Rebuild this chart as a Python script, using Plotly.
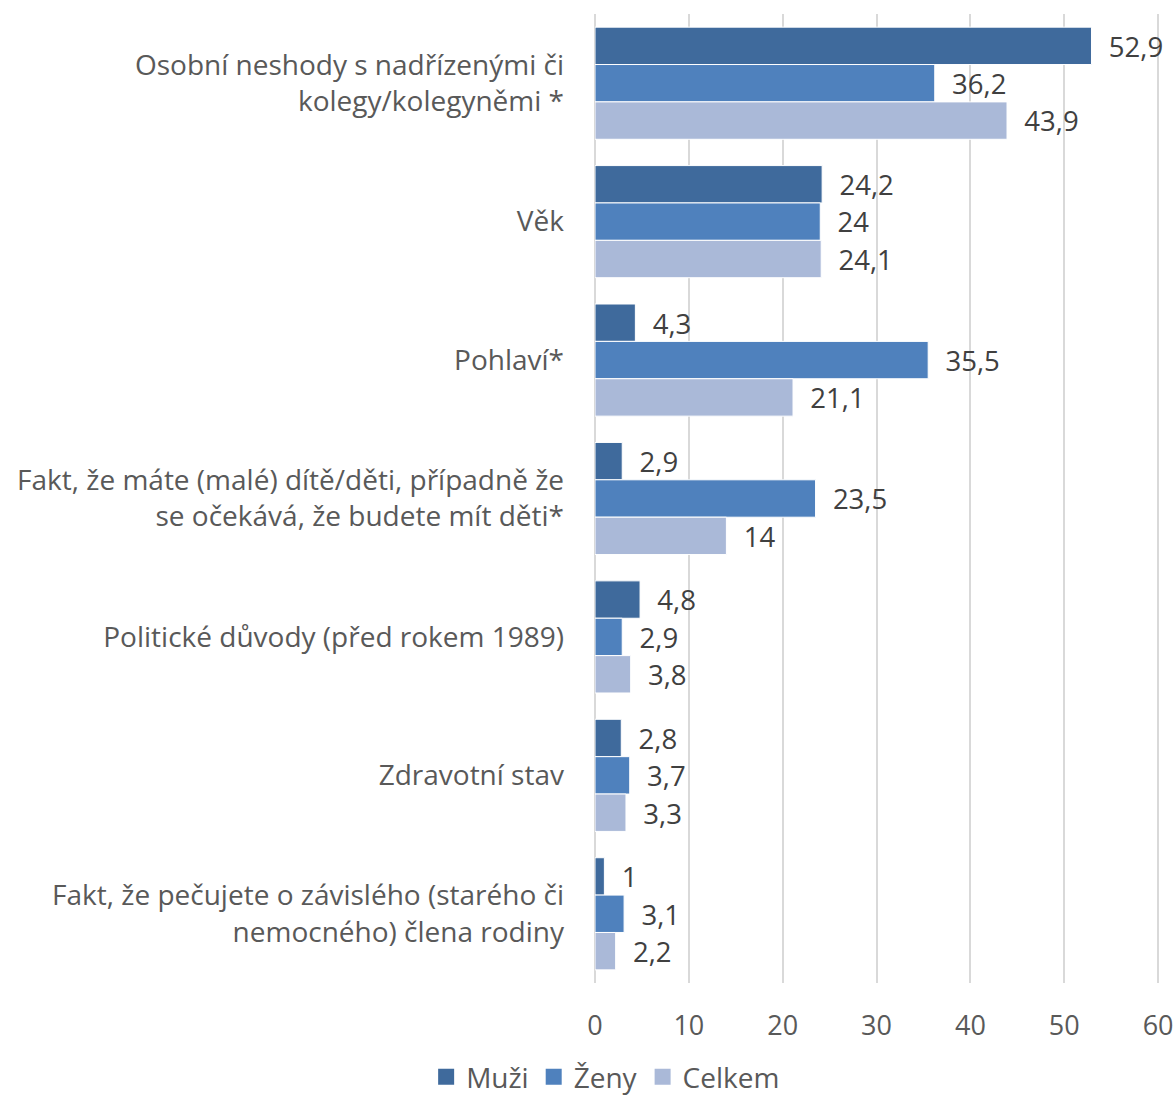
import plotly.graph_objects as go

categories = [
    "Osobní neshody s nadřízenými či<br>kolegy/kolegyněmi *",
    "Věk",
    "Pohlaví*",
    "Fakt, že máte (malé) dítě/děti, případně že<br>se očekává, že budete mít děti*",
    "Politické důvody (před rokem 1989)",
    "Zdravotní stav",
    "Fakt, že pečujete o závislého (starého či<br>nemocného) člena rodiny",
]
muzi = [52.9, 24.2, 4.3, 2.9, 4.8, 2.8, 1]
zeny = [36.2, 24, 35.5, 23.5, 2.9, 3.7, 3.1]
celkem = [43.9, 24.1, 21.1, 14, 3.8, 3.3, 2.2]

series = [
    ("Muži", muzi, "#3f6a9c"),
    ("Ženy", zeny, "#4f81bd"),
    ("Celkem", celkem, "#aab9d8"),
]


def fmt(v):
    return "\u00a0\u00a0" + f"{v:g}".replace(".", ",")


fig = go.Figure()
for name, vals, color in series:
    fig.add_trace(go.Bar(
        y=categories,
        x=vals,
        name=name,
        orientation="h",
        marker=dict(color=color, line=dict(color="white", width=1)),
        text=[fmt(v) for v in vals],
        textposition="outside",
        cliponaxis=False,
        textfont=dict(size=28, color="#404040"),
        showlegend=False,
    ))

# legend-only entries so the legend keys are bigger squares
for name, vals, color in series:
    fig.add_trace(go.Scatter(
        x=[None], y=[None],
        mode="markers",
        marker=dict(symbol="square", size=17, color=color),
        name=name,
    ))

fig.update_layout(
    width=1176,
    height=1102,
    barmode="group",
    bargap=0.19,
    bargroupgap=0,
    plot_bgcolor="white",
    paper_bgcolor="white",
    font=dict(family="Open Sans", size=27, color="#595959"),
    margin=dict(l=595, r=16, t=14, b=119, autoexpand=False),
    xaxis=dict(
        range=[0, 60.2],  # a hair past 60 so the last gridline is drawn
        tickvals=[0, 10, 20, 30, 40, 50, 60],
        showgrid=True,
        gridcolor="#d9d9d9",
        gridwidth=1.5,
        zeroline=True,
        zerolinecolor="#d9d9d9",
        zerolinewidth=1.5,
        showline=False,
        ticks="",
        automargin=False,
        ticklabeloverflow="allow",
        ticklabelstandoff=24,
        tickfont=dict(size=27, color="#595959"),
    ),
    yaxis=dict(
        type="category",
        autorange="reversed",
        showgrid=False,
        ticks="",
        automargin=False,
        ticklabelstandoff=30,
        tickfont=dict(size=28, color="#595959"),
    ),
    legend=dict(
        orientation="h",
        xref="container",
        yref="container",
        x=0.515,
        xanchor="center",
        y=0.0,
        yanchor="bottom",
        font=dict(size=28, color="#595959"),
        itemwidth=30,
        tracegroupgap=0,
    ),
    showlegend=True,
)

# drop the browser's default body margin so the figure fills the window exactly
fig.write_html(
    "out.html",
    config={"displayModeBar": False},
    post_script="document.body.style.margin='0';document.body.style.overflow='hidden';",
)
